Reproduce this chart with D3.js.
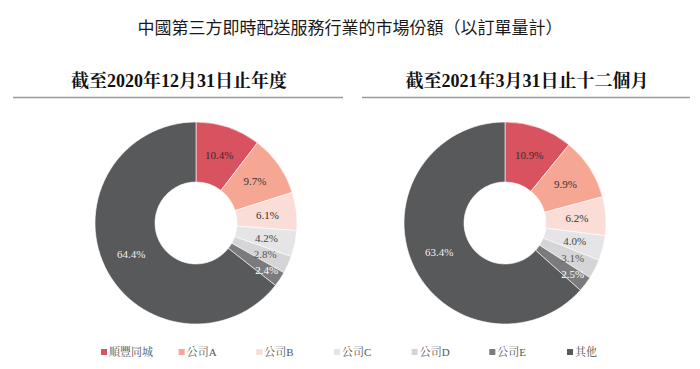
<!DOCTYPE html>
<html><head><meta charset="utf-8">
<script src="https://cdn.jsdelivr.net/npm/d3@7"></script>
<style>body{margin:0;background:#fff}svg{display:block}</style>
</head><body>
<svg id="c" width="700" height="369"></svg>
<script>
const categories = ["順豐同城","公司A","公司B","公司C","公司D","公司E","其他"];
const values2020 = [10.4, 9.7, 6.1, 4.2, 2.8, 2.4, 64.4];
const values2021 = [10.9, 9.9, 6.2, 4.0, 3.1, 2.5, 63.4];
const colors = ["#d9525f","#f5a793","#f9ddd6","#e5e5e7","#d5d5d7","#7b7b7d","#58595b"];
const labelColors = ["#3a2a2a","#3a3030","#333","#444","#555","#fff","#eee"];
const title = "中國第三方即時配送服務行業的市場份額（以訂單量計）";
const subtitles = ["截至2020年12月31日止年度","截至2021年3月31日止十二個月"];

const svg = d3.select("#c");
const serif = "'Liberation Serif','Noto Serif CJK TC','Noto Sans CJK TC',serif";

svg.append("text").attr("x",350).attr("y",34).attr("text-anchor","middle")
  .attr("font-family","'Noto Sans CJK TC',sans-serif").attr("font-size",17)
  .attr("font-weight",400).attr("fill","#1a1a1a").text(title);

const panels = [
  {vals: values2020, sub: subtitles[0], cx: 196, subx: 179, lx0: 13, lx1: 343},
  {vals: values2021, sub: subtitles[1], cx: 505, subx: 527, lx0: 362, lx1: 690}
];
const cy = 223, rOut = 101, rIn = 41;
const pie = d3.pie().sort(null).value(d => d.v);
const arc = d3.arc().innerRadius(rIn).outerRadius(rOut);

panels.forEach(p => {
  svg.append("text").attr("x", p.subx).attr("y", 87).attr("text-anchor","middle")
    .attr("font-family", serif).attr("font-weight","bold").attr("font-size",18)
    .attr("fill","#111").text(p.sub);
  svg.append("line").attr("x1",p.lx0).attr("x2",p.lx1).attr("y1",97.5).attr("y2",97.5)
    .attr("stroke","#9a9a9a").attr("stroke-width",1.5);
  const g = svg.append("g").attr("transform",`translate(${p.cx},${cy})`);
  const data = pie(p.vals.map((v,i)=>({v, i})));
  g.selectAll("path").data(data).join("path")
    .attr("d", arc).attr("fill", d => colors[d.data.i])
    .attr("stroke","#fff").attr("stroke-width",0.6);
  g.selectAll("text").data(data).join("text")
    .attr("transform", d => {
      const a = (d.startAngle + d.endAngle)/2;
      const r = d.data.v < 2.6 ? 85 : (d.data.v < 3.5 ? 76 : 72);
      return `translate(${Math.sin(a)*r},${-Math.cos(a)*r})`;
    })
    .attr("text-anchor","middle").attr("dy","0.35em")
    .attr("font-family", serif).attr("font-size",11)
    .attr("fill", d => labelColors[d.data.i])
    .text(d => d.data.v.toFixed(1) + "%");
});

const legendX = d3.scalePoint().domain(categories).range([104, 570]);
const lg = svg.append("g");
categories.forEach((c,i) => {
  const x = legendX(c);
  lg.append("rect").attr("x", x-3).attr("y", 349).attr("width",6).attr("height",6)
    .attr("fill", colors[i]);
  lg.append("text").attr("x", x+5).attr("y", 356)
    .attr("font-family", serif).attr("font-size",11).attr("fill","#555").text(c);
});
</script>
</body></html>
